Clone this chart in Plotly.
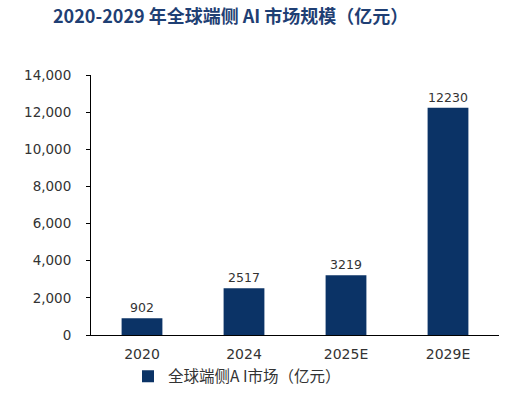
import plotly.graph_objects as go

categories = ["2020", "2024", "2025E", "2029E"]
values = [902, 2517, 3219, 12230]
series_name = "全球端侧A I市场（亿元）"
title_text = "2020-2029 年全球端侧 AI 市场规模（亿元）"
y_ticks = [0, 2000, 4000, 6000, 8000, 10000, 12000, 14000]
y_tick_labels = ["0", "2,000", "4,000", "6,000", "8,000", "10,000", "12,000", "14,000"]

bar_color = "#0B3366"

fig = go.Figure()
fig.add_trace(go.Bar(
    x=categories, y=values, name=series_name,
    marker=dict(color=bar_color, line=dict(width=0)),
    width=0.4,
    text=[str(v) for v in values], textposition="outside",
    textfont=dict(family="DejaVu Sans", size=12.5, color="#333333"),
    cliponaxis=False,
))

fig.update_layout(
    width=515, height=394,
    margin=dict(l=91, r=16, t=75, b=59, autoexpand=False),
    paper_bgcolor="white", plot_bgcolor="white",
    title=dict(text="<b>" + title_text + "</b>", x=53/515, xanchor="left",
               y=1 - 17/394, yanchor="middle",
               font=dict(family="Noto Sans CJK SC", size=18, color="#1F3F74")),
    showlegend=True,
    legend=dict(orientation="h", x=(128 - 91) / 408, xanchor="left", y=-0.095, yanchor="top",
                bgcolor="rgba(0,0,0,0)",
                font=dict(family="Noto Sans CJK SC", size=15.5, color="#333333"),
                itemwidth=30),
    bargap=0.6,
)
fig.update_xaxes(
    showline=True, linecolor="#000000", linewidth=1,
    ticks="", ticklabelstandoff=6,
    tickfont=dict(family="DejaVu Sans", size=14, color="#333333"),
    showgrid=False, automargin=False,
)
fig.update_yaxes(
    range=[0, 14000], tickvals=y_ticks, ticktext=y_tick_labels,
    showline=True, linecolor="#000000", linewidth=1,
    ticks="outside", ticklen=4, tickcolor="#000000", ticklabelstandoff=12,
    tickfont=dict(family="DejaVu Sans", size=13.5, color="#333333"),
    showgrid=False, zeroline=False, automargin=False,
)

fig.write_html("out.html", config={"displayModeBar": False},
               post_script="document.body.style.margin='0';document.body.style.overflow='hidden';")
